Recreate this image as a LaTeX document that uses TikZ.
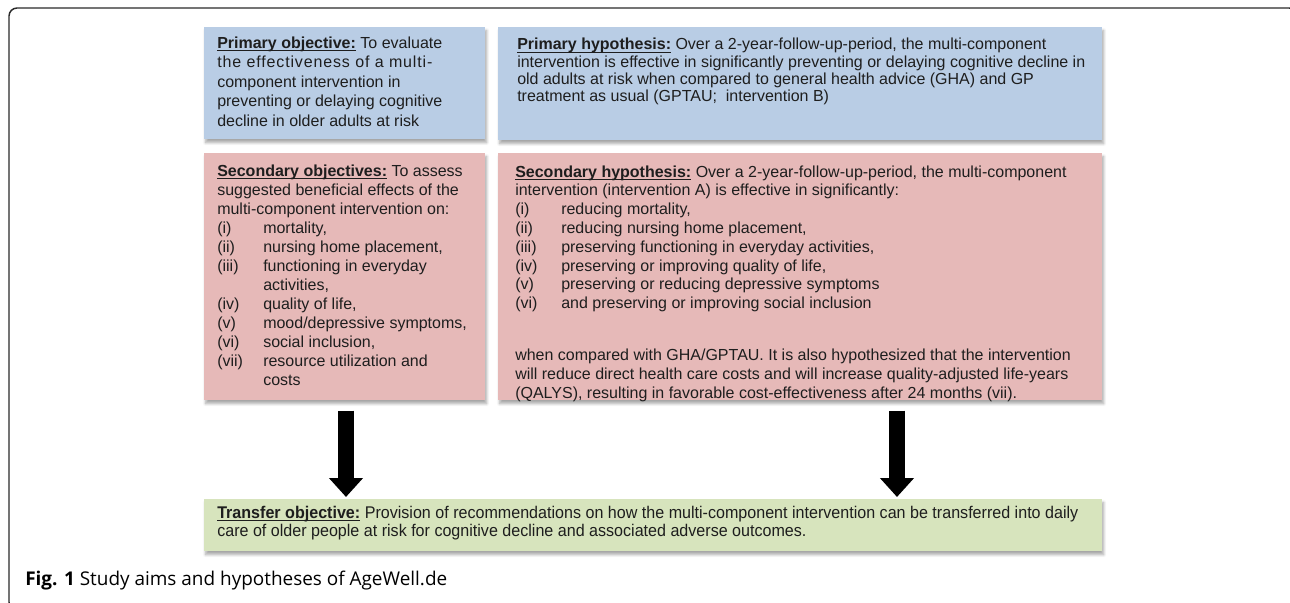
\documentclass[tikz,border=0pt]{standalone}
\usepackage{fontspec}
\setmainfont{Liberation Sans}
\newfontfamily\narrowfont[FakeStretch=0.95]{Liberation Sans}
\newfontfamily\capfont{Open Sans}
\usetikzlibrary{arrows.meta,shadows.blur,calc}
\definecolor{boxblue}{HTML}{B9CDE5}
\definecolor{boxpink}{HTML}{E6B9B8}
\definecolor{boxgreen}{HTML}{D7E4BD}
\definecolor{txtcol}{HTML}{1E1E1E}
\definecolor{framecol}{HTML}{2A2A2A}
\newlength{\lind}\setlength{\lind}{34.5pt}
\newcommand{\litem}[2]{\makebox[\lind][l]{#1}#2}
\newcommand{\hd}[1]{\leavevmode\setbox0\hbox{\textbf{#1}}\rlap{\rule[-2.3pt]{\wd0}{0.8pt}}\box0\relax}
\newcommand{\spaced}[1]{{\addfontfeature{LetterSpace=5.4}#1}}
\begin{document}
\begin{tikzpicture}[x=0.75pt,y=-0.75pt,
  box/.style={rectangle, draw=none, inner sep=0pt, anchor=north west,
    blur shadow={shadow xshift=1pt, shadow yshift=-2.5pt, shadow blur steps=6, shadow opacity=35}},
  txt/.style={inner sep=0pt, anchor=base west, text=txtcol},
  bigarrow/.style={line width=12pt, -{Triangle[width=24.75pt, length=14.25pt]}, black}
]
\useasboundingbox (0,0) rectangle (1290,603);
\begin{scope}
  \clip (0,0) rectangle (1290,603);
  \draw[framecol, line width=1.1pt, rounded corners=6pt] (9,8) rectangle (1297,610);
\end{scope}

% boxes
\node[box, fill=boxblue, minimum width={281*0.75pt}, minimum height={112*0.75pt}] (b1) at (204,27) {};
\node[box, fill=boxblue, minimum width={604*0.75pt}, minimum height={113*0.75pt}] (b2) at (498,27) {};
\node[box, fill=boxpink, minimum width={281*0.75pt}, minimum height={247*0.75pt}] (b3) at (204,153) {};
\node[box, fill=boxpink, minimum width={604*0.75pt}, minimum height={247*0.75pt}] (b4) at (498,153) {};
\node[box, fill=boxgreen, minimum width={898*0.75pt}, minimum height={52*0.75pt}] (g) at (204,499) {};

% texts
\node[txt, font=\fontsize{12}{14.7}\selectfont] (t1) at (217,48) {\parbox[t]{400pt}{\raggedright
\hd{Primary objective:} To evaluate\\
\spaced{the effectiveness of a multi-}\\
component intervention in\\
preventing or delaying cognitive\\
decline in older adults at risk}};

\node[txt, font=\fontsize{12}{12.9}\selectfont] (t2) at (517,50) {\parbox[t]{600pt}{\raggedright
\hd{Primary hypothesis:} Over a 2-year-follow-up-period, the multi-component\\
intervention is effective in significantly preventing or delaying cognitive decline in\\
old adults at risk when compared to general health advice (GHA) and GP\\
treatment as usual (GPTAU;\ \ intervention B)}};

\node[txt, font=\fontsize{12}{14.3}\selectfont] (t3) at (217,176) {\parbox[t]{400pt}{\raggedright
\hd{Secondary objectives:} To assess\\
suggested beneficial effects of the\\
multi-component intervention on:\\
\litem{(i)}{mortality,}\\
\litem{(ii)}{nursing home placement,}\\
\litem{(iii)}{functioning in everyday}\\
\litem{}{activities,}\\
\litem{(iv)}{quality of life,}\\
\litem{(v)}{mood/depressive symptoms,}\\
\litem{(vi)}{social inclusion,}\\
\litem{(vii)}{resource utilization and}\\
\litem{}{costs}}};

\node[txt, font=\fontsize{12}{14.1}\selectfont] (t4) at (515,177) {\parbox[t]{600pt}{\raggedright
\hd{Secondary hypothesis:} Over a 2-year-follow-up-period, the multi-component\\
intervention (intervention A) is effective in significantly:\\
\litem{(i)}{reducing mortality,}\\
\litem{(ii)}{reducing nursing home placement,}\\
\litem{(iii)}{preserving functioning in everyday activities,}\\
\litem{(iv)}{preserving or improving quality of life,}\\
\litem{(v)}{preserving or reducing depressive symptoms}\\
\litem{(vi)}{and preserving or improving social inclusion}\\[24.9pt]
when compared with GHA/GPTAU. It is also hypothesized that the intervention\\
will reduce direct health care costs and will increase quality-adjusted life-years\\
(QALYS), resulting in favorable cost-effectiveness after 24 months (vii).}};

\node[txt, font=\narrowfont\fontsize{12.7}{13.5}\selectfont] (t5) at (217,518) {\parbox[t]{900pt}{\raggedright
\hd{Transfer objective:} Provision of recommendations on how the multi-component intervention can be transferred into daily\\
care of older people at risk for cognitive decline and associated adverse outcomes.}};

% arrows
\coordinate (la) at (346,0);
\coordinate (ra) at (897,0);
\coordinate (a1s) at ($(b3.south -| la)+(0,10)$);
\coordinate (a1e) at ($(g.north -| la)+(0,-2)$);
\coordinate (a2s) at ($(b4.south -| ra)+(0,10)$);
\coordinate (a2e) at ($(g.north -| ra)+(0,-2)$);
\draw[bigarrow] (a1s) -- (a1e);
\draw[bigarrow] (a2s) -- (a2e);

% caption
\node[txt, text=black, font=\capfont\fontsize{14.2}{16}\selectfont] (cap) at (25,585) {\textbf{Fig. 1} Study aims and hypotheses of AgeWell.de};
\end{tikzpicture}
\end{document}
